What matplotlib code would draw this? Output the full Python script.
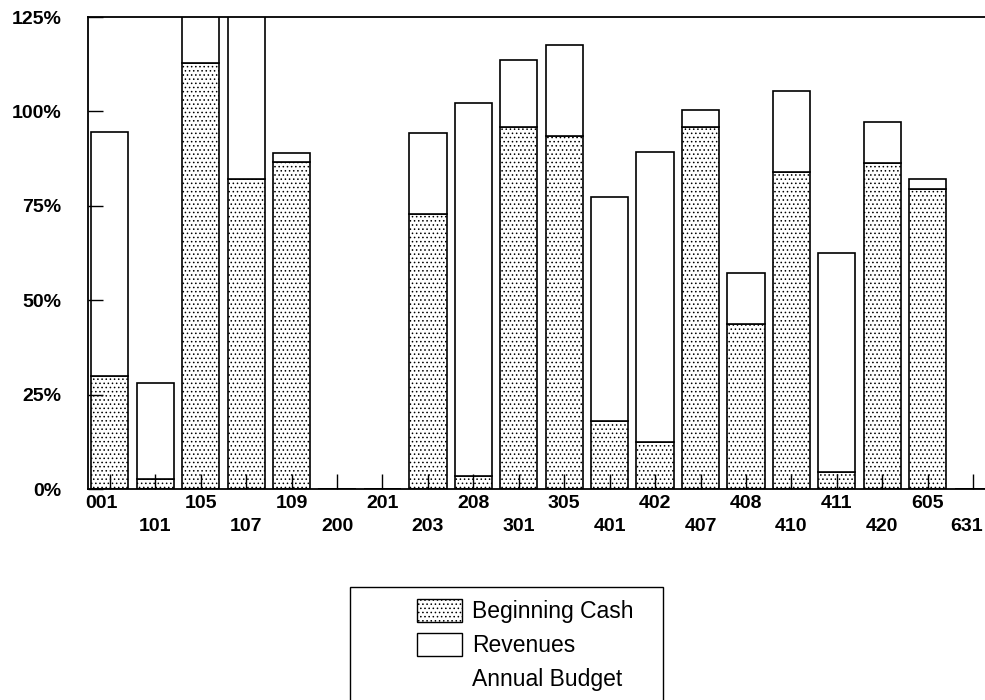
import matplotlib
matplotlib.use("Agg")
import matplotlib.pyplot as plt
import matplotlib.transforms as mtransforms
from matplotlib.patches import Patch, Rectangle
from matplotlib.lines import Line2D
from matplotlib.ticker import FixedLocator, FuncFormatter

categories = ["001", "101", "105", "107", "109", "200", "201", "203", "208", "301",
              "305", "401", "402", "407", "408", "410", "411", "420", "605", "631"]
beginning_cash = [29.9, 2.6, 112.9, 82.0, 86.5, 0, 0, 72.7, 3.4, 95.8,
                  93.5, 18.1, 12.4, 95.8, 43.6, 83.9, 4.5, 86.4, 79.4, 0]
revenues = [64.7, 25.6, 17.0, 48.0, 2.4, 0, 0, 21.7, 98.7, 17.7,
            24.0, 59.3, 76.9, 4.7, 13.5, 21.5, 58.1, 10.9, 2.7, 0]
y_ticks = [0, 25, 50, 75, 100, 125]

plt.rcParams['font.family'] = ['Liberation Sans', 'DejaVu Sans']
plt.rcParams['hatch.linewidth'] = 0.6
plt.rcParams['hatch.color'] = 'black'

fig = plt.figure(figsize=(9.85, 7.0), dpi=100)
ax = fig.add_axes([88/985, 1 - 489/700, 1 - 88/985, (489 - 17)/700])

x = list(range(len(categories)))
w = 0.82
ax.bar(x, beginning_cash, width=w, facecolor='white', edgecolor='black',
       linewidth=1.2, hatch='....', label='Beginning Cash')
ax.bar(x, revenues, width=w, bottom=beginning_cash, facecolor='white',
       edgecolor='black', linewidth=1.2, label='Revenues')

ax.set_xlim(-0.48, len(categories) - 0.74)
ax.set_ylim(0, 125)

ax.set_yticks(y_ticks)
ax.yaxis.set_major_formatter(FuncFormatter(lambda v, p: f"{int(v)}%"))
ax.tick_params(axis='y', direction='in', length=11, width=1.0, pad=19,
               labelsize=14)
for lab in ax.get_yticklabels():
    lab.set_fontweight('bold')

ax.xaxis.set_major_locator(FixedLocator(x[0::2]))
ax.xaxis.set_minor_locator(FixedLocator(x[1::2]))
ax.set_xticklabels(categories[0::2])
ax.set_xticklabels(categories[1::2], minor=True)
ax.tick_params(axis='x', which='both', direction='in', length=11, width=1.0,
               labelsize=14)
ax.tick_params(axis='x', which='major', pad=4)
ax.tick_params(axis='x', which='minor', pad=21)
major_labels = ax.get_xticklabels(minor=False)
minor_labels = ax.get_xticklabels(minor=True)
for lab in major_labels + minor_labels:
    lab.set_fontweight('bold')
# small horizontal nudges as in the original print
major_labels[0].set_transform(major_labels[0].get_transform() +
                              mtransforms.ScaledTranslation(-8/100, 0, fig.dpi_scale_trans))
minor_labels[-1].set_transform(minor_labels[-1].get_transform() +
                               mtransforms.ScaledTranslation(-7/100, 0, fig.dpi_scale_trans))

ax.spines['right'].set_visible(False)
for s in ['left', 'top', 'bottom']:
    ax.spines[s].set_linewidth(1.3)

# legend frame
fig.patches.append(Rectangle((350/985, -0.05), (663 - 350)/985, (700 - 587)/700 + 0.05,
                             transform=fig.transFigure, facecolor='white',
                             edgecolor='black', linewidth=1.0, zorder=0))
handles = [Patch(facecolor='white', edgecolor='black', hatch='....', linewidth=1.0),
           Patch(facecolor='white', edgecolor='black', linewidth=1.0),
           Line2D([], [], linestyle='none')]
labels = ['Beginning Cash', 'Revenues', 'Annual Budget']
fig.legend(handles, labels, loc='upper left', bbox_to_anchor=(417/985, 1 - 599/700),
           frameon=False, fontsize=16.5, handlelength=1.95, handleheight=1.2,
           handletextpad=0.45, labelspacing=0.4, borderaxespad=0, borderpad=0)

fig.savefig("out.png", dpi=100)
